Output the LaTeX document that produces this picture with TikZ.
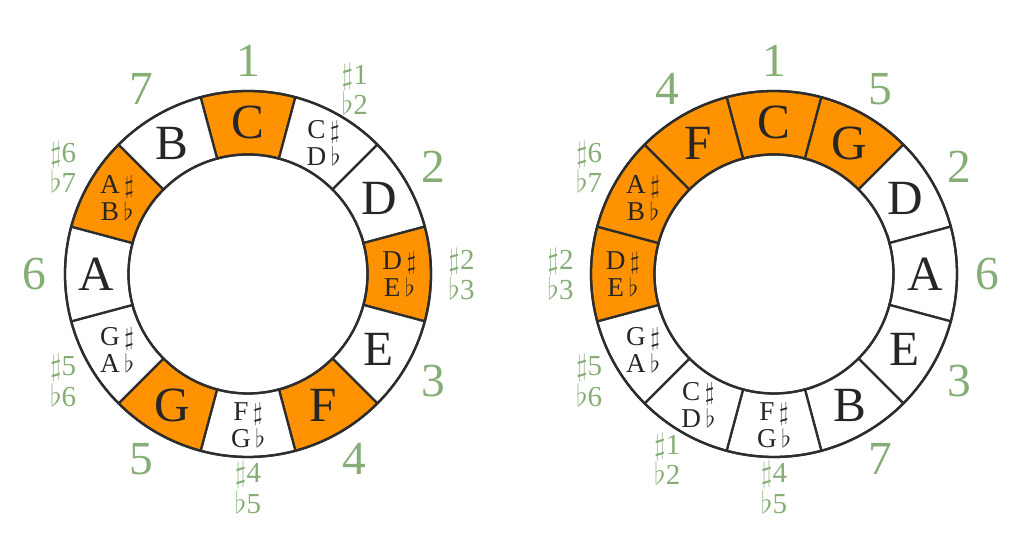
\documentclass[tikz,border=0pt]{standalone}
\usepackage{fontspec}
\setmainfont{Liberation Serif}
\usepackage{tikz}
\definecolor{keyorange}{RGB}{255,146,0}
\definecolor{degreegreen}{RGB}{133,173,117}
\definecolor{ringline}{RGB}{45,45,45}
\tikzset{segline/.style={draw=ringline, line width=1.3pt},
  notebig/.style={font=\fontsize{28}{30}\selectfont, text=black!85, inner sep=0pt},
  notesmall/.style={font=\fontsize{15.5}{15.5}\selectfont, text=black!85, align=center, inner sep=0pt},
  degreebig/.style={font=\fontsize{27}{30}\selectfont, text=degreegreen, inner sep=0pt},
  degreesmall/.style={font=\fontsize{16.5}{15.5}\selectfont, text=degreegreen, align=center, inner sep=0pt}}
\newcommand{\ringin}{2.39}
\newcommand{\ringout}{3.66}
\newcommand{\ringmid}{3.025}
\newcommand{\ringdeg}{4.27}
\newcommand{\shp}{\,$\sharp$}
\newcommand{\flt}{\,$\flat$}
% one ring segment: centre, angle, fill
\newcommand{\keyseg}[3]{%
  \filldraw[segline, fill=#3] ([shift={(#1)}]#2+15:\ringin) -- ([shift={(#1)}]#2+15:\ringout)
    arc[start angle=#2+15, delta angle=-30, radius=\ringout]
    -- ([shift={(#1)}]#2-15:\ringin)
    arc[start angle=#2-15, delta angle=30, radius=\ringin] -- cycle;}

\begin{document}
\begin{tikzpicture}
\useasboundingbox (0,0) rectangle (20.48,11.04);
\coordinate (L) at (4.96,5.56);
\coordinate (R) at (15.48,5.56);

% chromatic ring
\keyseg{L}{90}{keyorange}
\keyseg{L}{60}{white}
\keyseg{L}{30}{white}
\keyseg{L}{0}{keyorange}
\keyseg{L}{-30}{white}
\keyseg{L}{-60}{keyorange}
\keyseg{L}{-90}{white}
\keyseg{L}{-120}{keyorange}
\keyseg{L}{-150}{white}
\keyseg{L}{180}{white}
\keyseg{L}{150}{keyorange}
\keyseg{L}{120}{white}
\draw[segline] (L) circle[radius=\ringout];
\draw[segline] (L) circle[radius=\ringin];

\node[notebig] (LC) at ([shift={(L)}]90:\ringmid) {C};
\node[notesmall] (LCs) at ([shift={(L)}]60:\ringmid) {C\shp\\D\flt};
\node[notebig] (LD) at ([shift={(L)}]30:\ringmid) {D};
\node[notesmall] (LDs) at ([shift={(L)}]0:\ringmid) {D\shp\\E\flt};
\node[notebig] (LE) at ([shift={(L)}]-30:\ringmid) {E};
\node[notebig] (LF) at ([shift={(L)}]-60:\ringmid) {F};
\node[notesmall] (LFs) at ([shift={(L)}]-90:\ringmid) {F\shp\\G\flt};
\node[notebig] (LG) at ([shift={(L)}]-120:\ringmid) {G};
\node[notesmall] (LGs) at ([shift={(L)}]-150:\ringmid) {G\shp\\A\flt};
\node[notebig] (LA) at ([shift={(L)}]180:\ringmid) {A};
\node[notesmall] (LAs) at ([shift={(L)}]150:\ringmid) {A\shp\\B\flt};
\node[notebig] (LB) at ([shift={(L)}]120:\ringmid) {B};

\node[degreebig] (Ld1) at ([shift={(L)}]90:\ringdeg) {1};
\node[degreesmall] (Ld1s) at ([shift={(L)}]60:\ringdeg) {$\sharp$1\\$\flat$2};
\node[degreebig] (Ld2) at ([shift={(L)}]30:\ringdeg) {2};
\node[degreesmall] (Ld2s) at ([shift={(L)}]0:\ringdeg) {$\sharp$2\\$\flat$3};
\node[degreebig] (Ld3) at ([shift={(L)}]-30:\ringdeg) {3};
\node[degreebig] (Ld4) at ([shift={(L)}]-60:\ringdeg) {4};
\node[degreesmall] (Ld4s) at ([shift={(L)}]-90:\ringdeg) {$\sharp$4\\$\flat$5};
\node[degreebig] (Ld5) at ([shift={(L)}]-120:\ringdeg) {5};
\node[degreesmall] (Ld5s) at ([shift={(L)}]-150:\ringdeg) {$\sharp$5\\$\flat$6};
\node[degreebig] (Ld6) at ([shift={(L)}]180:\ringdeg) {6};
\node[degreesmall] (Ld6s) at ([shift={(L)}]150:\ringdeg) {$\sharp$6\\$\flat$7};
\node[degreebig] (Ld7) at ([shift={(L)}]120:\ringdeg) {7};

% circle of fifths
\keyseg{R}{90}{keyorange}
\keyseg{R}{60}{keyorange}
\keyseg{R}{30}{white}
\keyseg{R}{0}{white}
\keyseg{R}{-30}{white}
\keyseg{R}{-60}{white}
\keyseg{R}{-90}{white}
\keyseg{R}{-120}{white}
\keyseg{R}{-150}{white}
\keyseg{R}{180}{keyorange}
\keyseg{R}{150}{keyorange}
\keyseg{R}{120}{keyorange}
\draw[segline] (R) circle[radius=\ringout];
\draw[segline] (R) circle[radius=\ringin];

\node[notebig] (RC) at ([shift={(R)}]90:\ringmid) {C};
\node[notebig] (RG) at ([shift={(R)}]60:\ringmid) {G};
\node[notebig] (RD) at ([shift={(R)}]30:\ringmid) {D};
\node[notebig] (RA) at ([shift={(R)}]0:\ringmid) {A};
\node[notebig] (RE) at ([shift={(R)}]-30:\ringmid) {E};
\node[notebig] (RB) at ([shift={(R)}]-60:\ringmid) {B};
\node[notesmall] (RFs) at ([shift={(R)}]-90:\ringmid) {F\shp\\G\flt};
\node[notesmall] (RCs) at ([shift={(R)}]-120:\ringmid) {C\shp\\D\flt};
\node[notesmall] (RGs) at ([shift={(R)}]-150:\ringmid) {G\shp\\A\flt};
\node[notesmall] (RDs) at ([shift={(R)}]180:\ringmid) {D\shp\\E\flt};
\node[notesmall] (RAs) at ([shift={(R)}]150:\ringmid) {A\shp\\B\flt};
\node[notebig] (RF) at ([shift={(R)}]120:\ringmid) {F};

\node[degreebig] (Rd1) at ([shift={(R)}]90:\ringdeg) {1};
\node[degreebig] (Rd5) at ([shift={(R)}]60:\ringdeg) {5};
\node[degreebig] (Rd2) at ([shift={(R)}]30:\ringdeg) {2};
\node[degreebig] (Rd6) at ([shift={(R)}]0:\ringdeg) {6};
\node[degreebig] (Rd3) at ([shift={(R)}]-30:\ringdeg) {3};
\node[degreebig] (Rd7) at ([shift={(R)}]-60:\ringdeg) {7};
\node[degreesmall] (Rd4s) at ([shift={(R)}]-90:\ringdeg) {$\sharp$4\\$\flat$5};
\node[degreesmall] (Rd1s) at ([shift={(R)}]-120:\ringdeg) {$\sharp$1\\$\flat$2};
\node[degreesmall] (Rd5s) at ([shift={(R)}]-150:\ringdeg) {$\sharp$5\\$\flat$6};
\node[degreesmall] (Rd2s) at ([shift={(R)}]180:\ringdeg) {$\sharp$2\\$\flat$3};
\node[degreesmall] (Rd6s) at ([shift={(R)}]150:\ringdeg) {$\sharp$6\\$\flat$7};
\node[degreebig] (Rd4) at ([shift={(R)}]120:\ringdeg) {4};
\end{tikzpicture}
\end{document}
